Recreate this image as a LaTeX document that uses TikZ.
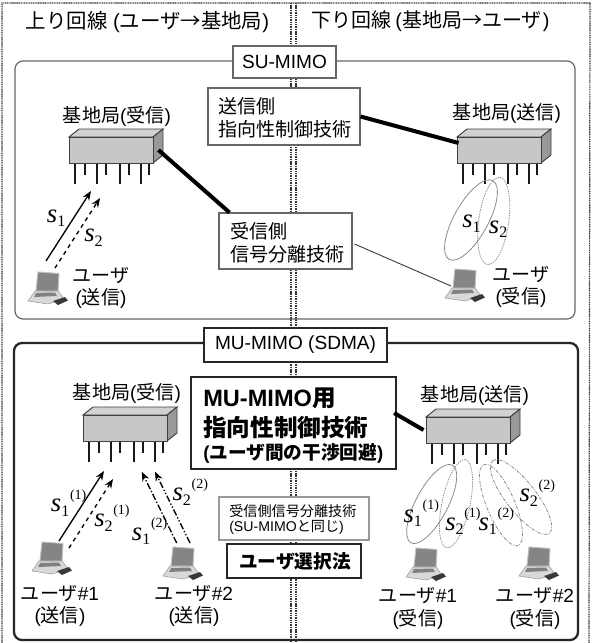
\documentclass[tikz,border=0pt]{standalone}
\usepackage{fontspec}
\setmainfont{Liberation Sans}
\newfontfamily\jpfont{Noto Sans CJK JP}
\newfontfamily\sigfont{Liberation Serif}
\usetikzlibrary{fit,calc,arrows.meta}
\newcommand{\J}[1]{{\jpfont #1}}
% signal symbol with subscript and optional (k) superscript
\newcommand{\sigsym}[1]{{\sigfont\itshape\fontsize{20}{20}\selectfont s}\raisebox{-3.5pt}{\sigfont\fontsize{12}{12}\selectfont #1}}
\newcommand{\sigsup}[2]{\sigsym{#1}\hspace{0.5pt}\raisebox{9.5pt}{\sigfont\fontsize{10.5}{11}\selectfont(#2)}}
\definecolor{facegray}{gray}{0.78}
\definecolor{topgray}{gray}{0.82}
\definecolor{sidegray}{gray}{0.6}
\definecolor{linegray}{gray}{0.4}
\tikzset{
  x=0.75pt, y=-0.75pt,
  dotframe/.style={line width=0.9pt, black!80, dash pattern=on 0.8pt off 0.5pt},
  lightframe/.style={draw=linegray, line width=0.9pt, rounded corners=6pt},
  heavyframe/.style={draw=black!85, line width=1.7pt, rounded corners=6pt},
  thinbox/.style={draw=linegray, line width=0.8pt, fill=white, inner sep=0pt, sharp corners},
  paleox/.style={draw=black!40, line width=0.8pt, fill=white, inner sep=0pt, sharp corners},
  heavybox/.style={draw=black!85, line width=1.7pt, fill=white, inner sep=0pt, sharp corners},
  txt/.style={inner sep=0pt, font=\fontsize{14.3}{17}\selectfont, align=center},
  txtl/.style={txt, align=left, anchor=west},
  sig/.style={inner sep=0pt, anchor=base west},
  link/.style={line width=3pt, black},
  thinlink/.style={line width=0.7pt, black!75},
  sigarrow/.style={line width=1pt, black, -{Stealth[length=7pt,width=5.5pt]}},
  lobe/.style={draw=black!45, line width=0.6pt},
  lobedash/.style={lobe, dash pattern=on 2.5pt off 1pt on 0.7pt off 1pt},
  lobedot/.style={lobe, dash pattern=on 1pt off 0.8pt},
}
% antenna array: front face is a named node, origin at its upper-left corner
\newcommand{\basestation}[3]{%
  \begin{scope}[shift={(#2,#3)}]
    \foreach \ax/\ay in {6/47,16/38,28/47,37/38,51/47,60/38,72/47,80/38}
      \draw[line width=2pt,black!90] (\ax,26) -- (\ax,\ay);
    \filldraw[fill=topgray,draw=black!75,line width=0.7pt] (0,0) -- (10,-8) -- (94,-8) -- (84,0) -- cycle;
    \filldraw[fill=sidegray,draw=black!75,line width=0.7pt] (84,0) -- (94,-8) -- (94,18) -- (84,26) -- cycle;
    \node[fit={(0,0)(84,26)},inner sep=0pt,fill=facegray,draw=black!75,line width=0.7pt,name=#1] {};
  \end{scope}}
% notebook computer, origin at the upper-left corner of its screen
\newcommand{\laptop}[2]{%
  \begin{scope}[shift={(#1,#2)}]
    \filldraw[fill=black!48,draw=black!25,line width=0.7pt] (0,0) -- (21,1.5) -- (20,19) -- (-2,19) -- cycle;
    \filldraw[fill=black!15,draw=black!40,line width=0.4pt] (-3,19) -- (20,19) -- (26,27) -- (10,32) -- (-10,29) -- cycle;
    \fill[black!50] (-2,21) -- (17,20.5) -- (19,24) -- (-4,25) -- cycle;
    \fill[black!78] (15,29) -- (27,25) -- (30,28.5) -- (20,33) -- cycle;
  \end{scope}}
\begin{document}
\begin{tikzpicture}
\useasboundingbox (0,0) rectangle (592,643);
\fill[white] (0,0) rectangle (592,643);

% panel separators
\draw[dotframe] (2,643) -- (2,3) -- (590,3) -- (589,643);
\draw[dotframe] (291,3) -- (291,643);
\draw[dotframe] (296,3) -- (296,643);

\node[txt,font=\fontsize{15.3}{18}\selectfont] (titleup) at (147.5,22) {\J{上り回線} (\J{ユーザ→基地局})};
\node[txt,font=\fontsize{15}{18}\selectfont] (titledown) at (430.5,21) {\J{下り回線}\hspace{3pt}(\J{基地局→ユーザ}\hspace{1pt})};

% single-user group
\draw[lightframe] (15,61) rectangle (575,319);
\node[thinbox,fit={(233,46)(336,78)}] (sulabel) {};
\node[txt] (sutext) at (284.5,62) {SU-MIMO};
\node[thinbox,fit={(208,88)(360,145)}] (subeam) {};
\node[txtl,font=\fontsize{14.3}{17.3}\selectfont] (subeamtext) at (218,118) {\J{送信側}\\\J{指向性制御技術}};
\node[thinbox,fit={(219,213)(352,269)}] (susep) {};
\node[txtl,font=\fontsize{14.3}{17.3}\selectfont] (suseptext) at (230,243) {\J{受信側}\\\J{信号分離技術}};

\basestation{bsa}{69}{137}
\basestation{bsb}{457}{137}
\node[txt] (bsalabel) at (117,116) {\J{基地局}(\J{受信})};
\node[txt] (bsblabel) at (507,113) {\J{基地局}(\J{送信})};

\draw[link] ($(bsa.east)+(5,0)$) -- ($(susep.north west)+(11,0)$);
\draw[link] ($(subeam.east)+(0,0)$) -- ($(bsb.west)+(2,-7)$);

\laptop{38}{272}
\laptop{455}{269}
\coordinate (lapb) at (451,286);
\draw[thinlink] ($(susep.east)+(2,3)$) -- (lapb);
\coordinate (ua1) at (46,261); \coordinate (ua1t) at (91,191);
\coordinate (ua2) at (55,268); \coordinate (ua2t) at (100,198);
\draw[sigarrow] (ua1) -- (ua1t);
\draw[sigarrow,dashed] (ua2) -- (ua2t);
\node[sig] (sa1) at (46.7,222) {\sigsym{1}};
\node[sig] (sa2) at (84,241.7) {\sigsym{2}};
\node[txt] (usera) at (101,288) {\J{ユーザ}\\(\J{送信})};
\node[txt] (userb) at (521,287) {\J{ユーザ}\\(\J{受信})};

\draw[lobe,shift={(471,220)},rotate=61] (0,0) ellipse (45 and 17);
\draw[lobedot,shift={(493.7,221)},rotate=82] (0,0) ellipse (44 and 15);
\node[sig] (sb1) at (462,227.7) {\sigsym{1}};
\node[sig] (sb2) at (488.7,233) {\sigsym{2}};

% multi-user group
\draw[heavyframe] (14,343) rectangle (578,640);
\node[heavybox,fit={(204,328)(387,362)}] (mulabel) {};
\node[txt] (mutext) at (295.5,345) {MU-MIMO (SDMA)};
\node[heavybox,fit={(191,377)(396,469)}] (mubeam) {};
\node[txtl] (mubeamtext) at (203,398) {\fontsize{17.7}{21}\selectfont\bfseries MU-MIMO\J{用}};
\node[txtl] (mubeamtextb) at (203,428) {\fontsize{17.7}{21}\selectfont\bfseries\J{指向性制御技術}};
\node[txtl] (mubeamtextc) at (203,453) {\fontsize{14}{17}\selectfont\bfseries (\J{ユーザ間の干渉回避})};
\node[paleox,fit={(219,497)(369,540)}] (musep) {};
\node[txtl,font=\fontsize{10.6}{11.5}\selectfont] (museptext) at (229,519.5) {\J{受信側信号分離技術}\\(SU-MIMO\J{と同じ})};
\node[heavybox,fit={(227,544)(361,578)}] (musel) {};
\node[txt,font=\fontsize{14}{17}\selectfont\bfseries] (museltext) at (295,561) {\J{ユーザ選択法}};

\basestation{bsc}{83}{415}
\basestation{bsd}{426}{417}
\node[txt] (bsclabel) at (127,393) {\J{基地局}(\J{受信})};
\node[txt] (bsdlabel) at (475,395) {\J{基地局}(\J{送信})};
\draw[link] ($(mubeam.east)+(-3,-10)$) -- ($(bsd.west)+(-2,0)$);

\laptop{42}{542}
\laptop{173}{547}
\laptop{416}{548}
\laptop{529}{547}

\coordinate (uc1) at (59,541); \coordinate (uc1t) at (104,471);
\coordinate (uc2) at (69,548); \coordinate (uc2t) at (113,479);
\coordinate (uc3) at (176.7,543); \coordinate (uc3t) at (141.7,471.7);
\coordinate (uc4) at (190,543); \coordinate (uc4t) at (155,471.7);
\draw[sigarrow] (uc1) -- (uc1t);
\draw[sigarrow,dashed] (uc2) -- (uc2t);
\draw[sigarrow,dash pattern=on 5pt off 1.5pt on 1pt off 1.5pt] (uc3) -- (uc3t);
\draw[sigarrow,dash pattern=on 5pt off 1.5pt on 1pt off 1.5pt on 1pt off 1.5pt] (uc4) -- (uc4t);
\node[sig] (sc1) at (50.7,511.7) {\sigsup{1}{1}};
\node[sig] (sc2) at (94,526.7) {\sigsup{2}{1}};
\node[sig] (sc3) at (131.7,540) {\sigsup{1}{2}};
\node[sig] (sc4) at (172.3,500.7) {\sigsup{2}{2}};

\node[txt] (userc) at (60,606) {\J{ユーザ}\#1\\(\J{送信})};
\node[txt] (userd) at (194,606) {\J{ユーザ}\#2\\(\J{送信})};
\node[txt] (usere) at (418,608.5) {\J{ユーザ}\#1\\(\J{受信})};
\node[txt] (userf) at (535,608.5) {\J{ユーザ}\#2\\(\J{受信})};

\draw[lobe,shift={(431.7,504)},rotate=62] (0,0) ellipse (44 and 16);
\draw[lobedot,shift={(456,503.7)},rotate=78] (0,0) ellipse (45 and 14);
\draw[lobedash,shift={(501,505)},rotate=113] (0,0) ellipse (44 and 14);
\draw[lobedash,shift={(521,497)},rotate=128] (0,0) ellipse (46 and 15);
\node[sig] (sd1) at (403.3,522.3) {\sigsup{1}{1}};
\node[sig] (sd2) at (445,530) {\sigsup{2}{1}};
\node[sig] (sd3) at (478.3,530) {\sigsup{1}{2}};
\node[sig] (sd4) at (519.3,501.7) {\sigsup{2}{2}};
\end{tikzpicture}
\end{document}
